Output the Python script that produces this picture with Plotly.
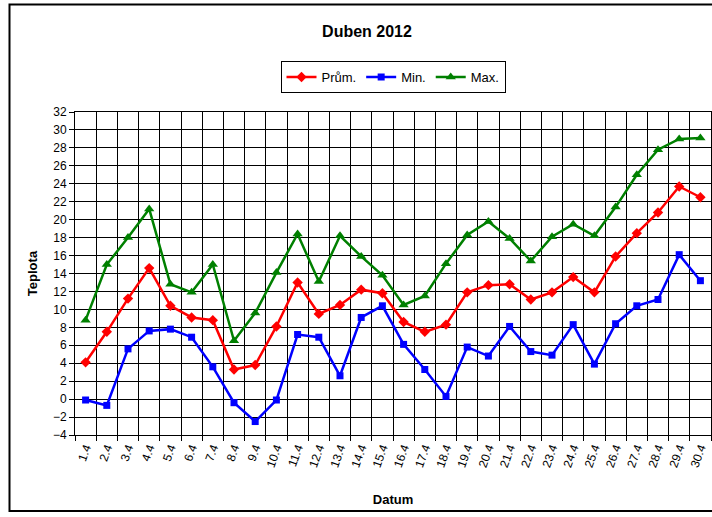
import plotly.graph_objects as go

dates = [f"{d}.4" for d in range(1, 31)]
prum = [4.1, 7.5, 11.2, 14.6, 10.4, 9.1, 8.8, 3.3, 3.8, 8.1, 13.0, 9.5, 10.5, 12.2, 11.8,
        8.6, 7.5, 8.3, 11.9, 12.7, 12.8, 11.1, 11.9, 13.6, 11.9, 15.9, 18.5, 20.8, 23.7, 22.5]
mn = [-0.1, -0.7, 5.6, 7.6, 7.8, 6.9, 3.6, -0.4, -2.5, -0.1, 7.2, 6.9, 2.6, 9.1, 10.4,
      6.1, 3.3, 0.3, 5.8, 4.8, 8.1, 5.3, 4.9, 8.3, 3.9, 8.4, 10.4, 11.1, 16.1, 13.2]
mx = [8.8, 15.0, 18.0, 21.2, 12.8, 11.9, 15.0, 6.5, 9.6, 14.1, 18.4, 13.1, 18.2, 15.9, 13.8,
      10.5, 11.5, 15.1, 18.3, 19.8, 17.9, 15.4, 18.1, 19.5, 18.2, 21.4, 25.0, 27.8, 29.0, 29.1]

FONT = "Liberation Sans, Arial, sans-serif"

fig = go.Figure()
fig.add_trace(go.Scatter(x=dates, y=prum, name="Prům.", mode="lines+markers",
                         line=dict(color="#ff0000", width=2.5),
                         marker=dict(symbol="diamond", size=8, color="#ff0000")))
fig.add_trace(go.Scatter(x=dates, y=mn, name="Min.", mode="lines+markers",
                         line=dict(color="#0000ff", width=2.5),
                         marker=dict(symbol="square", size=7, color="#0000ff")))
fig.add_trace(go.Scatter(x=dates, y=mx, name="Max.", mode="lines+markers",
                         line=dict(color="#008000", width=2.5),
                         marker=dict(symbol="triangle-up", size=9, color="#008000")))

L, R, T, B = 75, 1, 112, 82
W, H = 712, 517
pw, ph = W - L - R, H - T - B

def px_x(X):
    return (X - L) / pw

def px_y(Y):
    return (H - B - Y) / ph

fig.update_layout(
    width=W, height=H,
    margin=dict(l=L, r=R, t=T, b=B, autoexpand=False),
    paper_bgcolor="white", plot_bgcolor="white",
    font=dict(family=FONT, size=11, color="black"),
    title=dict(text="<b>Duben 2012</b>", x=367 / W, xanchor="center",
               y=1 - 31 / H, yanchor="middle", yref="container", automargin=False,
               font=dict(size=16, family=FONT, color="black")),
    showlegend=True,
    legend=dict(orientation="h", x=px_x(393), xanchor="center",
                y=px_y(61), yanchor="top",
                bordercolor="black", borderwidth=1, bgcolor="white",
                font=dict(size=13, family=FONT),
                itemwidth=30, tracegroupgap=0),
    xaxis=dict(type="category", tickson="boundaries", ticks="outside", ticklen=5,
               tickcolor="black", tickangle=-70, showgrid=True, gridcolor="black",
               gridwidth=1, showline=True, linecolor="black", linewidth=1, mirror=True,
               tickfont=dict(size=12, family=FONT), automargin=False,
               title=dict(text="<b>Datum</b>", font=dict(size=13, family=FONT), standoff=26),
               range=[-0.5, 29.5]),
    yaxis=dict(range=[-4, 32], dtick=2, ticks="outside", ticklen=5, tickcolor="black",
               showgrid=True, gridcolor="black", gridwidth=1, zeroline=False,
               showline=True, linecolor="black", linewidth=1, mirror=True,
               tickfont=dict(size=12, family=FONT), automargin=False,
               title=dict(text="<b>Teplota</b>", font=dict(size=13, family=FONT), standoff=12)),
    shapes=[dict(type="rect", xref="paper", yref="paper",
                 x0=px_x(9.5), x1=px_x(730), y0=px_y(511), y1=px_y(4.5),
                 line=dict(color="black", width=2), fillcolor="rgba(0,0,0,0)", layer="below")],
)

fig.write_html("out.html", config={"displayModeBar": False},
               post_script="document.body.style.margin='0';document.body.style.overflow='hidden';")
